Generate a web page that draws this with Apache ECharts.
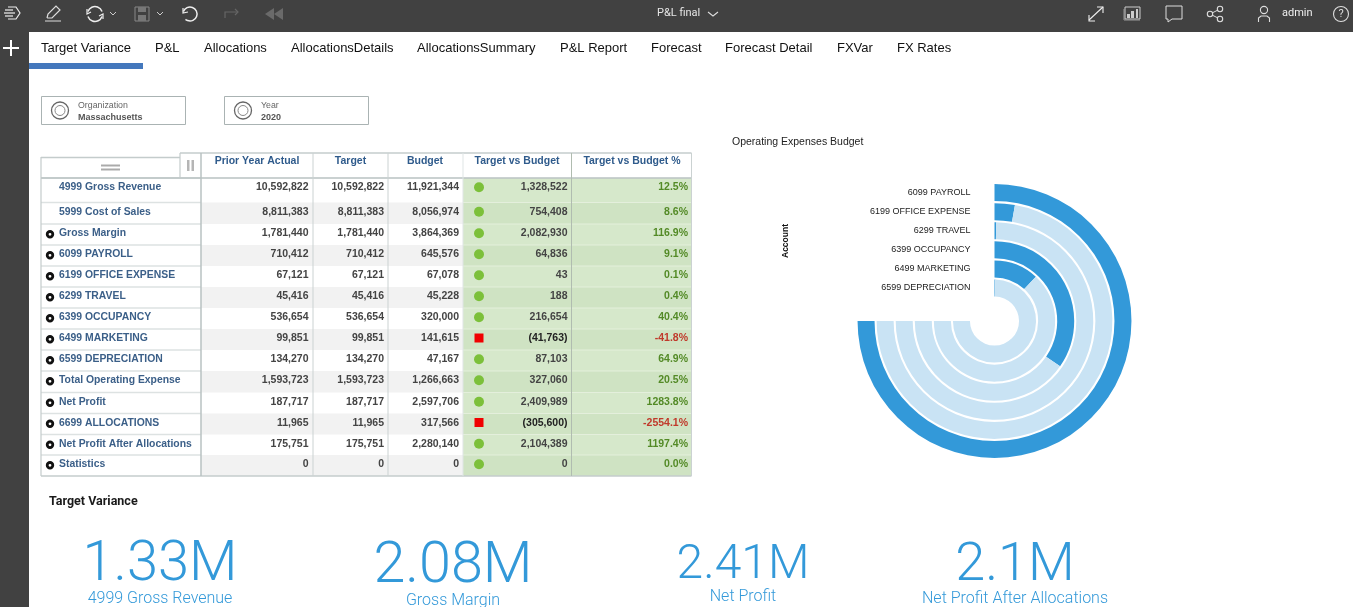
<!DOCTYPE html>
<html style="height: 100%">

<head>
  <meta charset="utf-8">
</head>

<body style="height: 100%; margin: 0; background: #fff">
  <div id="container" style="width: 1353px; height: 607px"></div>
  <script type="text/javascript" src="https://cdn.jsdelivr.net/npm/echarts@6/dist/echarts.min.js"></script>
  <script type="text/javascript">
    // table data
    var rowLabels = ['4999 Gross Revenue', '5999 Cost of Sales', 'Gross Margin', '6099 PAYROLL', '6199 OFFICE EXPENSE',
      '6299 TRAVEL', '6399 OCCUPANCY', '6499 MARKETING', '6599 DEPRECIATION', 'Total Operating Expense', 'Net Profit',
      '6699 ALLOCATIONS', 'Net Profit After Allocations', 'Statistics'];
    var priorYearActual = [10592822, 8811383, 1781440, 710412, 67121, 45416, 536654, 99851, 134270, 1593723, 187717, 11965, 175751, 0];
    var target = [10592822, 8811383, 1781440, 710412, 67121, 45416, 536654, 99851, 134270, 1593723, 187717, 11965, 175751, 0];
    var budget = [11921344, 8056974, 3864369, 645576, 67078, 45228, 320000, 141615, 47167, 1266663, 2597706, 317566, 2280140, 0];
    var targetVsBudget = [1328522, 754408, 2082930, 64836, 43, 188, 216654, -41763, 87103, 327060, 2409989, -305600, 2104389, 0];
    var targetVsBudgetPct = [12.5, 8.6, 116.9, 9.1, 0.1, 0.4, 40.4, -41.8, 64.9, 20.5, 1283.8, -2554.1, 1197.4, 0.0];
    var columnTitles = ['Prior Year Actual', 'Target', 'Budget', 'Target vs Budget', 'Target vs Budget %'];

    // radial chart data (full sweep = payroll)
    var accounts = ['6099 PAYROLL', '6199 OFFICE EXPENSE', '6299 TRAVEL', '6399 OCCUPANCY', '6499 MARKETING', '6599 DEPRECIATION'];
    var accountValues = [645576, 23900, 2400, 298000, 102800, 2400];
    var accountRemainder = [0, 621676, 643176, 347576, 542776, 643176];
    var angleMax = 860768;

    // KPI tiles
    var kpiValues = ['1.33M', '2.08M', '2.41M', '2.1M'];
    var kpiLabels = ['4999 Gross Revenue', 'Gross Margin', 'Net Profit', 'Net Profit After Allocations'];

    var tabs = ['Target Variance', 'P&L', 'Allocations', 'AllocationsDetails', 'AllocationsSummary', 'P&L Report', 'Forecast', 'Forecast Detail', 'FXVar', 'FX Rates'];
    var filterNames = ['Organization', 'Year'];
    var filterValues = ['Massachusetts', '2020'];

    var blue = '#3399d9';
    var g = [];
    var ROBOTO = 'Roboto, sans-serif';
    var ARIAL = '"Liberation Sans", Arial, sans-serif';

    function rect(x, y, w, h, fill, stroke) {
      g.push({ type: 'rect', shape: { x: x, y: y, width: w, height: h }, style: { fill: fill || 'transparent', stroke: stroke || null, lineWidth: 1 }, silent: true });
    }
    function line(pts, color, w) {
      g.push({ type: 'polyline', shape: { points: pts }, style: { stroke: color, lineWidth: w || 1, fill: null }, silent: true });
    }
    function poly(pts, color) {
      g.push({ type: 'polygon', shape: { points: pts }, style: { fill: color }, silent: true });
    }
    function circle(x, y, r, fill, stroke, w) {
      g.push({ type: 'circle', shape: { cx: x, cy: y, r: r }, style: { fill: fill || 'transparent', stroke: stroke || null, lineWidth: w || 1 }, silent: true });
    }
    function arc(x, y, r, a0, a1, color, w) {
      g.push({ type: 'arc', shape: { cx: x, cy: y, r: r, startAngle: a0 * Math.PI / 180, endAngle: a1 * Math.PI / 180, clockwise: true }, style: { stroke: color, lineWidth: w || 1.5, fill: null }, silent: true });
    }
    function text(t, x, y, font, color, align) {
      g.push({ type: 'text', silent: true, style: { text: t, x: x, y: y, font: font, fill: color, textAlign: align || 'left', textVerticalAlign: 'middle', align: align || 'left', verticalAlign: 'middle' } });
    }

    // top bar and left rail
    rect(0, 0, 1353, 32, '#414141');
    rect(0, 32, 29, 575, '#414141');

    // left toolbar icons
    line([[8, 7], [16, 7], [20, 13], [16, 19], [8, 19]], '#eee', 1.2);
    line([[5, 10], [13, 10]], '#eee', 1.2);
    line([[4, 13], [15, 13]], '#eee', 1.2);
    line([[5, 16], [13, 16]], '#eee', 1.2);
    line([[45, 21], [61, 21]], '#ddd', 1);
    line([[47, 18], [48, 14], [56, 6], [60, 10], [52, 18], [47, 18]], '#ddd', 1.2);
    arc(95, 14, 7.5, 200, 340, '#eee');
    arc(95, 14, 7.5, 20, 160, '#eee');
    line([[87, 9], [87, 14], [91, 12]], '#eee', 1.2);
    line([[103, 19], [103, 14], [99, 16]], '#eee', 1.2);
    line([[110, 12], [113, 15], [116, 12]], '#ccc', 1);
    rect(135, 7, 14, 14, null, '#888');
    rect(138, 7, 8, 5, '#777');
    rect(138, 15, 8, 6, '#777');
    line([[157, 12], [160, 15], [163, 12]], '#ccc', 1);
    arc(190, 14, 7, -160, 130, '#eee');
    line([[183, 8], [183, 13], [188, 12]], '#eee', 1.2);
    line([[225, 18], [225, 12], [238, 12]], '#666', 1.2);
    line([[235, 9], [238, 12], [235, 15]], '#666', 1.2);
    poly([[265, 14], [274, 8], [274, 20]], '#6a6a6a');
    poly([[274, 14], [283, 8], [283, 20]], '#6a6a6a');
    text('P&L final', 657, 13.5, '11px ' + ROBOTO, '#e6e6e6');
    line([[708, 12], [713, 16], [718, 12]], '#ddd', 1.1);

    // right toolbar icons
    line([[1089, 20], [1103, 7]], '#eee', 1.1);
    line([[1097, 7], [1103, 7], [1103, 13]], '#eee', 1.1);
    line([[1089, 15], [1089, 21], [1095, 21]], '#eee', 1.1);
    rect(1125, 7, 15, 12, '#414141', '#ccc');
    rect(1127, 14, 3, 4, '#ccc');
    rect(1131, 11, 3, 7, '#ccc');
    rect(1136, 9, 2, 9, '#ccc');
    line([[1124, 9], [1124, 20], [1140, 20]], '#999', 1);
    line([[1166, 6], [1182, 6], [1182, 19], [1172, 19], [1168, 22], [1168, 19], [1166, 19], [1166, 6]], '#ddd', 1);
    circle(1210, 14, 2.7, null, '#ddd', 1.1);
    circle(1220, 9, 2.7, null, '#ddd', 1.1);
    circle(1220, 19, 2.7, null, '#ddd', 1.1);
    line([[1212, 13], [1218, 10]], '#ddd', 1);
    line([[1212, 15], [1218, 18]], '#ddd', 1);
    circle(1264, 10, 3.6, null, '#ddd', 1.1);
    line([[1258.5, 22], [1258.5, 18], [1261, 16], [1267, 16], [1269.5, 18], [1269.5, 22]], '#ddd', 1.1);
    text('admin', 1282, 13.5, '11px ' + ROBOTO, '#eee');
    circle(1341, 14, 7.5, null, '#ddd', 1.1);
    text('?', 1341, 14, '11px ' + ROBOTO, '#ddd', 'center');

    // plus
    line([[3, 48], [19, 48]], '#fff', 2);
    line([[11, 40], [11, 56]], '#fff', 2);

    // tabs
    var tabX = [41, 155, 204, 291, 417, 560, 651, 725, 837, 897];
    tabs.forEach(function (t, i) {
      text(t, tabX[i], 48, '13px ' + ARIAL, '#111');
    });
    rect(29, 63, 114, 6, '#4478bd');

    // filter boxes
    var filterX = [41, 224];
    filterNames.forEach(function (n, i) {
      var x = filterX[i];
      rect(x + 0.5, 96.5, 144, 28, '#fff', '#aab3b3');
      circle(x + 19, 110.5, 8.5, null, '#666', 1.3);
      circle(x + 19, 110.5, 5, null, '#888', 1);
      text(n, x + 37, 106, '8.8px ' + ARIAL, '#666');
      text(filterValues[i], x + 37, 117.5, 'bold 9px ' + ARIAL, '#555');
    });

    // table
    var colEdges = [201, 313, 388, 463, 571.5, 691.5];
    var rowTops = [178, 202.5, 224, 245, 266, 287, 308, 329, 350, 371, 392.5, 413.5, 434.5, 455, 476];
    var colRight = [308.5, 384, 459, 567.5, 688];
    var colCenter = [257, 350.5, 425, 517, 632];
    var colData = [priorYearActual, target, budget, targetVsBudget];
    var lineColor = '#c4cccc';

    rowLabels.forEach(function (label, i) {
      var top = rowTops[i], h = rowTops[i + 1] - top;
      if (i % 2 == 1) rect(201, top, 262, h, '#f2f2f2');
      rect(463, top, 228.5, h, i % 2 == 1 ? '#cfe3c3' : '#d6e8cb');
      line([[41, top], [201, top]], '#dde2e2', 1.5);
      line([[463, top], [691.5, top]], '#e4efdc', 1.2);
    });
    rect(463, 153, 228.5, 25, '#fff');

    rowLabels.forEach(function (label, i) {
      var mid = rowTops[i] + 9;
      var ty = mid + 0.4;
      text(label, 59, ty, 'bold 10.4px ' + ARIAL, '#3b5f88');
      if (i >= 2) {
        circle(50, mid + 1.3, 2.8, '#fff', '#111', 2.8);
      }
      colData.forEach(function (col, c) {
        var v = col[i];
        var s = Math.abs(v).toLocaleString('en-US');
        if (v < 0) s = '(' + s + ')';
        text(s, colRight[c], ty, 'bold 10.5px ' + ARIAL, v < 0 ? '#222' : '#444', 'right');
      });
      var pct = targetVsBudgetPct[i];
      text(pct.toFixed(1) + '%', colRight[4], ty, 'bold 10.5px ' + ARIAL, pct < 0 ? '#c0392b' : '#538a26', 'right');
      if (targetVsBudget[i] < 0) {
        rect(474.5, mid - 4.5, 9, 9, '#f00000');
      } else {
        circle(479, mid + 0.3, 5, '#7cc03a');
      }
    });

    // table grid and header
    columnTitles.forEach(function (t, i) {
      text(t, colCenter[i], 160.8, 'bold 10.5px ' + ARIAL, '#2f5b8c', 'center');
    });
    line([[180, 153], [691.5, 153]], lineColor, 1.5);
    line([[41, 157.5], [180, 157.5]], lineColor, 1.5);
    line([[41, 178], [691.5, 178]], '#b8c2c2', 1.5);
    line([[41, 476], [691.5, 476]], lineColor, 1.5);
    line([[41, 157], [41, 476]], lineColor, 1.2);
    line([[180, 153], [180, 178]], lineColor, 1.2);
    colEdges.forEach(function (x, i) {
      var col = (i == 0) ? '#b8c2c2' : (i == 4 ? '#b0bcb0' : (i == 3 ? '#dfe5e5' : '#cbd2d2'));
      line([[x, 153], [x, 476]], col, i == 0 ? 1.5 : 1);
    });
    rect(101, 164.5, 19, 2, '#aaa');
    rect(101, 168.5, 19, 2, '#aaa');
    rect(187, 160, 2.5, 11, '#b5b5b5');
    rect(191.5, 160, 2.5, 11, '#b5b5b5');

    // radial chart axis name
    g.push({
      type: 'text', silent: true, x: 786, y: 241, rotation: Math.PI / 2,
      style: { text: 'Account', font: 'bold 8.5px ' + ARIAL, fill: '#111', align: 'center', verticalAlign: 'middle', textAlign: 'center', textVerticalAlign: 'middle' }
    });

    // KPI tiles
    text('Target Variance', 49, 501.5, 'bold 12.5px ' + ROBOTO, '#1a1a1a');
    var kpiX = [160, 453, 743, 1015];
    var kpiY = [566, 568, 566, 566];
    var kpiSize = [56, 57.5, 48, 54];
    var kpiLabelY = [599, 601, 597, 599];
    kpiValues.forEach(function (v, i) {
      text(v, kpiX[i], kpiY[i], '300 ' + kpiSize[i] + 'px ' + ROBOTO, blue, 'center');
      text(kpiLabels[i], kpiX[i], kpiLabelY[i], '300 16px ' + ROBOTO, blue, 'center');
    });

    var dom = document.getElementById('container');
    var myChart = echarts.init(dom);
    var option = {
      animation: false,
      title: {
        text: 'Operating Expenses Budget',
        left: 727,
        top: 132,
        textStyle: { fontSize: 10.5, fontWeight: 'normal', color: '#222', fontFamily: 'Liberation Sans' }
      },
      polar: { center: [994.5, 321], radius: [23.5, 138] },
      angleAxis: {
        show: false,
        startAngle: 90,
        clockwise: true,
        min: 0,
        max: angleMax
      },
      radiusAxis: {
        type: 'category',
        data: accounts,
        inverse: true,
        axisLine: { show: false },
        axisTick: { show: false },
        z: 10,
        axisLabel: { interval: 0, margin: 24, fontSize: 9, color: '#222', fontFamily: 'Liberation Sans' }
      },
      series: [{
        name: 'Budget',
        type: 'bar',
        coordinateSystem: 'polar',
        stack: 'ring',
        data: accountValues,
        barWidth: 17,
        itemStyle: { color: blue },
        silent: true
      }, {
        name: 'Remaining',
        type: 'bar',
        coordinateSystem: 'polar',
        stack: 'ring',
        data: accountRemainder,
        barWidth: 17,
        itemStyle: { color: '#c9e3f4' },
        silent: true
      }],
      graphic: g
    };
    myChart.setOption(option);
  </script>
</body>

</html>
